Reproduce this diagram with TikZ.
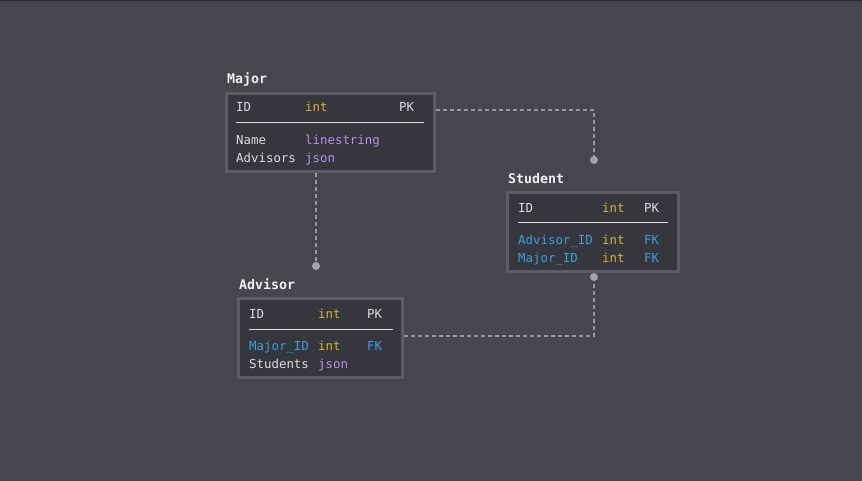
\documentclass[tikz,border=0pt]{standalone}
\usepackage{fontspec}
\setmonofont{DejaVu Sans Mono}
\definecolor{bg}{HTML}{46464E}
\definecolor{boxfill}{HTML}{36363E}
\definecolor{boxborder}{HTML}{5C5C64}
\definecolor{txt}{HTML}{DCDCDC}
\definecolor{inttype}{HTML}{D6B52E}
\definecolor{purp}{HTML}{B592E6}
\definecolor{fkblue}{HTML}{3D9FD9}
\definecolor{ttl}{HTML}{F0F0F0}
\definecolor{conn}{HTML}{9A9AA2}
\definecolor{topline}{HTML}{2A2A30}
\tikzset{
  tablebox/.style={draw=boxborder, fill=boxfill, line width=3pt, rectangle, inner sep=0pt},
  cell/.style={anchor=base west, inner sep=0pt, font=\ttfamily\fontsize{12.4}{14}\selectfont},
  ttlnode/.style={anchor=base west, inner sep=0pt, text=ttl, font=\ttfamily\bfseries\fontsize{13.3}{15}\selectfont},
  sepline/.style={draw=txt, line width=1pt},
  connline/.style={draw=conn, line width=1.2pt, dash pattern=on 4pt off 3pt},
  enddot/.style={circle, fill=conn!90!white, inner sep=0pt, minimum size=8pt},
}
\begin{document}
\begin{tikzpicture}[x=1pt,y=-1pt]
\useasboundingbox (0,0) rectangle (862,481);
\fill[bg] (0,0) rectangle (862,481);
\draw[topline, line width=1pt] (0,0.5) -- (862,0.5);

% Boxes
\node[tablebox, minimum width=208pt, minimum height=78pt] (major) at (330.5,132.5) {};
\node[tablebox, minimum width=171pt, minimum height=79pt] (student) at (593,232) {};
\node[tablebox, minimum width=164pt, minimum height=79pt] (advisor) at (320.5,338) {};

% Titles
\node[ttlnode] (majort) at (227,83.5) {Major};
\node[ttlnode] (studentt) at (508,183.5) {Student};
\node[ttlnode] (advisort) at (239,289.5) {Advisor};

% Major rows
\node[cell, text=txt] (m1a) at (236,111.5) {ID};
\node[cell, text=inttype] (m1b) at (305,111.5) {int};
\node[cell, text=txt] (m1c) at (399,111.5) {PK};
\draw[sepline] (236,123) -- (424,123);
\node[cell, text=txt] (m2a) at (236,144.5) {Name};
\node[cell, text=purp] (m2b) at (305,144.5) {linestring};
\node[cell, text=txt] (m3a) at (236,162.5) {Advisors};
\node[cell, text=purp] (m3b) at (305,162.5) {json};

% Student rows
\node[cell, text=txt] (s1a) at (518,212.5) {ID};
\node[cell, text=inttype] (s1b) at (602,212.5) {int};
\node[cell, text=txt] (s1c) at (644,212.5) {PK};
\draw[sepline] (518,223) -- (668,223);
\node[cell, text=fkblue] (s2a) at (518,244.5) {Advisor\_ID};
\node[cell, text=inttype] (s2b) at (602,244.5) {int};
\node[cell, text=fkblue] (s2c) at (644,244.5) {FK};
\node[cell, text=fkblue] (s3a) at (518,262.5) {Major\_ID};
\node[cell, text=inttype] (s3b) at (602,262.5) {int};
\node[cell, text=fkblue] (s3c) at (644,262.5) {FK};

% Advisor rows
\node[cell, text=txt] (a1a) at (249,318.5) {ID};
\node[cell, text=inttype] (a1b) at (318,318.5) {int};
\node[cell, text=txt] (a1c) at (367,318.5) {PK};
\draw[sepline] (249,329) -- (393,329);
\node[cell, text=fkblue] (a2a) at (249,350.5) {Major\_ID};
\node[cell, text=inttype] (a2b) at (318,350.5) {int};
\node[cell, text=fkblue] (a2c) at (367,350.5) {FK};
\node[cell, text=txt] (a3a) at (249,368.5) {Students};
\node[cell, text=purp] (a3b) at (318,368.5) {json};

% Connector endpoints
\coordinate (c1s) at (436,110);
\coordinate (c1e) at (594,160);
\coordinate (c2s) at (316,173);
\coordinate (c2e) at (316,266);
\coordinate (c3s) at (404,336);
\coordinate (c3e) at (594,277);

\draw[connline] (c1s) -| (c1e);
\draw[connline] (c2s) -- (c2e);
\draw[connline] (c3s) -| (c3e);
\node[enddot] (d1) at (c1e) {};
\node[enddot] (d2) at (c2e) {};
\node[enddot] (d3) at (c3e) {};
\end{tikzpicture}
\end{document}
